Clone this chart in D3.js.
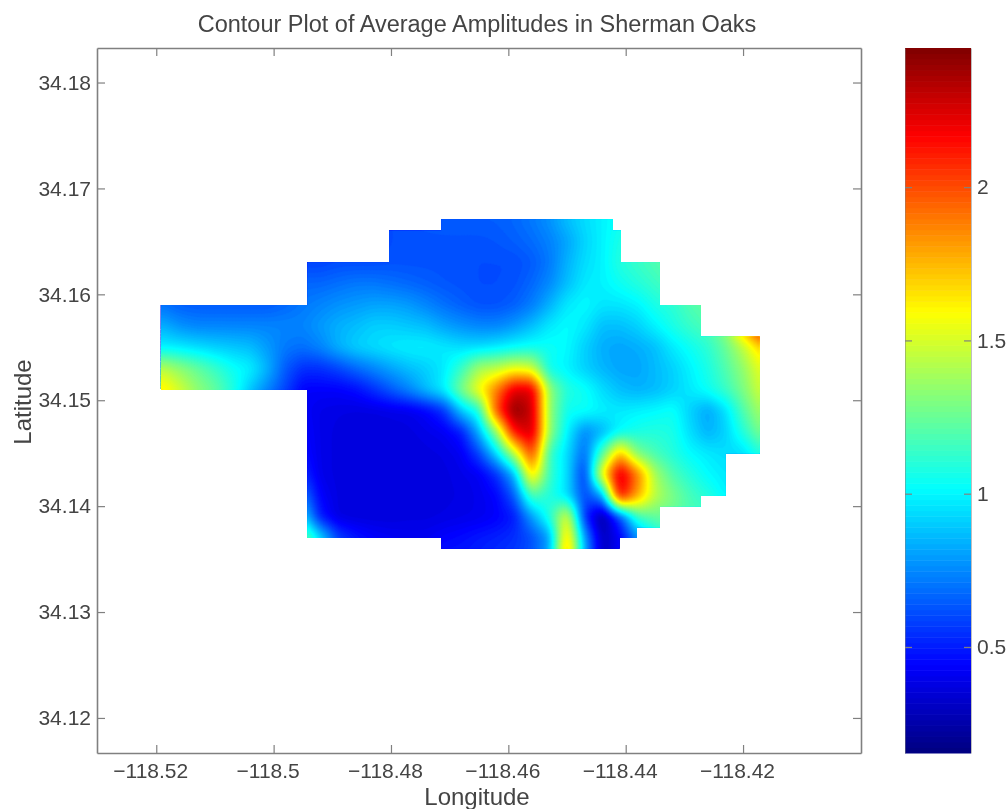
<!DOCTYPE html>
<html>
<head>
<meta charset="utf-8">
<title>Contour Plot of Average Amplitudes in Sherman Oaks</title>
<script src="https://cdn.jsdelivr.net/npm/d3@7"></script>
<style>
    html, body { margin: 0; padding: 0; background: #fff; }
    svg { display: block; filter: blur(0.7px); }
    text { font-family: "Liberation Sans", Arial, sans-serif; fill: #444; }
</style>
</head>
<body>
<div id="chart"></div>
<script>
// Grid the amplitudes were read on (cells outside the outline are only filler, they get clipped)
const lons = d3.range(35).map(i => +(-118.519 + i * 0.003).toFixed(3));
const lats = [34.167, 34.165, 34.163, 34.161, 34.159, 34.157, 34.155, 34.153, 34.151, 34.149, 34.147, 34.145, 34.143, 34.141, 34.139, 34.137, 34.135];

const r167 = [.65,.65,.65,.65,.65,.65,.65,.65, .6,.6,.6,.6,.6,.62,.64,.65,.66,.66,.66,.66,.68,.72,.78,.88,.95,1.0,1.05,1.1,1.15,1.2,1.2,1.2,1.2,1.2,1.2];
const r165 = [.65,.65,.65,.65,.65,.65,.65,.65, .58,.58,.6,.6,.6,.62,.63,.63,.63,.63,.63,.64,.66,.69,.74,.82,.93,1.0,1.08,1.12,1.2,1.25,1.25,1.25,1.25,1.25,1.25];
const r163 = [.65,.65,.65,.65,.65,.65,.65,.65, .6,.6,.62,.62,.62,.63,.63,.63,.63,.63,.62,.62,.62,.65,.72,.85,.95,1.0,1.1,1.15,1.2,1.25,1.25,1.25,1.25,1.25,1.25];
const r161 = [.66,.66,.66,.66,.66,.66,.66,.66, .68,.68,.7,.72,.72,.7,.68,.66,.64,.63,.62,.62,.63,.68,.76,.88,.98,1.0,1.05,1.1,1.15,1.2,1.25,1.3,1.3,1.3,1.3];
const r159 = [.7,.66,.65,.65,.65,.65,.65,.68, .72,.75,.78,.8,.82,.82,.8,.75,.7,.66,.63,.63,.66,.73,.85,.98,1.02,.97,.97,1.0,1.08,1.12,1.2,1.25,1.4,1.9,2.35];
const r157 = [.85,.78,.75,.75,.75,.75,.75,.75, .75,.8,.85,.88,.92,.92,.9,.88,.82,.78,.75,.75,.8,.88,.98,1.03,.98,.88,.88,.92,1.0,1.08,1.15,1.2,1.35,1.8,2.2];
const r155 = [1.0,.98,.95,.92,.9,.88,.8,.72, .7,.75,.85,.92,.95,.98,1.0,1.0,.98,.95,.95,.98,1.02,1.05,1.05,1.02,.92,.84,.82,.84,.88,.98,1.05,1.12,1.25,1.45,1.7];
const r153 = [1.45,1.35,1.25,1.15,1.05,1.0,.85,.65, .55,.55,.6,.68,.75,.82,.88,.92,.98,1.15,1.4,1.45,1.55,1.5,1.05,1.0,.92,.86,.82,.82,.87,.92,1.0,1.08,1.2,1.35,1.55];
const r151 = [1.65,1.5,1.35,1.25,1.1,.9,.75,.6, .44,.44,.44,.47,.55,.65,.75,.88,1.0,1.3,1.6,1.9,2.25,2.25,1.35,1.1,1.05,.95,.88,.85,.87,.92,.98,1.05,1.15,1.3,1.5];
const r149 = [1.65,1.5,1.35,1.2,1.0,.8,.6,.5, .44,.4,.39,.38,.38,.39,.4,.44,.55,.9,1.08,2.0,2.45,2.3,1.35,1.05,1.05,1.0,.98,1.0,1.02,1.05,.92,.82,.95,1.2,1.4];
const r147 = [.5,.5,.5,.5,.5,.5,.5,.5, .46,.4,.38,.38,.38,.38,.38,.4,.42,.5,.85,1.35,2.15,2.3,1.35,1.0,.75,.85,1.02,1.08,1.1,1.08,.95,.85,.92,1.1,1.3];
const r145 = [.5,.5,.5,.5,.5,.5,.5,.5, .48,.4,.38,.37,.37,.37,.37,.38,.39,.42,.6,.95,1.45,2.05,1.15,.95,.68,1.2,1.75,1.3,1.18,1.1,1.02,.98,.95,.95,1.1];
const r143 = [.55,.55,.55,.55,.55,.55,.55,.55, .55,.4,.38,.37,.37,.37,.37,.37,.38,.4,.42,.55,.85,1.7,1.15,.95,.55,1.6,2.3,1.9,1.4,1.2,1.1,1.02,.98,.98,.98];
const r141 = [.7,.7,.7,.7,.7,.7,.7,.7, .72,.44,.38,.37,.37,.37,.37,.37,.38,.39,.41,.45,.65,1.2,1.1,.95,.6,.8,2.2,1.8,1.45,1.3,1.18,1.1,1.0,1.0,1.0];
const r139 = [.85,.85,.85,.85,.85,.85,.85,.85, .95,.5,.38,.37,.37,.37,.38,.38,.39,.4,.41,.44,.5,.8,1.1,1.55,.55,.22,.6,1.15,1.25,1.25,1.2,1.2,1.2,1.2,1.2];
const r137 = [1.2,1.2,1.2,1.2,1.2,1.2,1.2,1.2, 1.3,.95,.6,.5,.45,.43,.42,.42,.45,.47,.5,.52,.55,.62,.8,1.75,.8,.3,.42,.75,1.0,1.2,1.2,1.2,1.2,1.2,1.2];
const r135 = [1.2,1.2,1.2,1.2,1.2,1.2,1.2,1.2, 1.3,.95,.6,.5,.47,.45,.45,.45,.5,.5,.52,.55,.58,.65,.85,1.85,.85,.3,.45,.8,1.0,1.2,1.2,1.2,1.2,1.2,1.2];
const amplitudeRows = [r167, r165, r163, r161, r159, r157, r155, r153, r151, r149, r147, r145, r143, r141, r139, r137, r135];

// Outline of the surveyed area
const outlineLon = [-118.5192,-118.4942,-118.4942,-118.4803,-118.4803,-118.4714,-118.4714,-118.4422,-118.4422,-118.4408,-118.4408,-118.4342,-118.4342,-118.4272,-118.4272,-118.4172,-118.4172,-118.423,-118.423,-118.4272,-118.4272,-118.4342,-118.4342,-118.4381,-118.4381,-118.4411,-118.4411,-118.4714,-118.4714,-118.4942,-118.4942,-118.5192];
const outlineLat = [34.159,34.159,34.163,34.163,34.166,34.166,34.1671,34.1671,34.166,34.166,34.163,34.163,34.159,34.159,34.156,34.156,34.145,34.145,34.141,34.141,34.14,34.14,34.138,34.138,34.137,34.137,34.136,34.136,34.137,34.137,34.151,34.151];

// Axis ticks
const lonTicks = [-118.52, -118.5, -118.48, -118.46, -118.44, -118.42];
const latTicks = [34.12, 34.13, 34.14, 34.15, 34.16, 34.17, 34.18];
const colorTicks = [0.5, 1, 1.5, 2];
const colorMin = 0.154;
const colorMax = 2.454;

const width = 1008;
const height = 809;
const plot = { left: 97, right: 861, top: 48, bottom: 753 };
const bar = { left: 905, right: 971 };

const svg = d3.select('#chart')
    .append('svg')
    .attr('width', width)
    .attr('height', height);

const x = d3.scaleLinear().domain([-118.5301, -118.3999]).range([plot.left, plot.right]);
const y = d3.scaleLinear().domain([34.11669, 34.18326]).range([plot.bottom, plot.top]);
const colorY = d3.scaleLinear().domain([colorMin, colorMax]).range([plot.bottom, plot.top]);

// MATLAB style jet colormap
function jet(v) {
    const t = (v - colorMin) / (colorMax - colorMin);
    const c = k => Math.round(255 * Math.max(0, Math.min(1, 1.5 - Math.abs(4 * t - k))));
    return `rgb(${c(3)},${c(2)},${c(1)})`;
}

// Refine the read grid so the contour bands come out smooth
const k = 6;
const nx = (lons.length - 1) * k + 1;
const ny = (lats.length - 1) * k + 1;
const fine = new Float64Array(nx * ny);
for (let j = 0; j < ny; j++) {
    const r = Math.min(Math.floor(j / k), lats.length - 2);
    const v = j / k - r;
    for (let i = 0; i < nx; i++) {
        const c = Math.min(Math.floor(i / k), lons.length - 2);
        const u = i / k - c;
        fine[j * nx + i] =
            amplitudeRows[r][c] * (1 - u) * (1 - v) + amplitudeRows[r][c + 1] * u * (1 - v) +
            amplitudeRows[r + 1][c] * (1 - u) * v + amplitudeRows[r + 1][c + 1] * u * v;
    }
}
d3.blur2({ data: fine, width: nx, height: ny }, 1);

// Clip to the surveyed outline
svg.append('clipPath')
    .attr('id', 'outline')
    .append('polygon')
    .attr('points', outlineLon.map((lon, i) => `${x(lon)},${y(outlineLat[i])}`).join(' '));

const gridLon = d3.scaleLinear().domain([0.5, nx - 0.5]).range([lons[0], lons[lons.length - 1]]);
const gridLat = d3.scaleLinear().domain([0.5, ny - 0.5]).range([lats[0], lats[lats.length - 1]]);
const path = d3.geoPath(d3.geoTransform({
    point: function(px, py) { this.stream.point(x(gridLon(px)), y(gridLat(py))); }
}));

const levels = d3.range(colorMin, colorMax, (colorMax - colorMin) / 128);
const contours = d3.contours().size([nx, ny]).thresholds(levels)(Array.from(fine));

svg.append('g')
    .attr('clip-path', 'url(#outline)')
    .selectAll('path')
    .data(contours)
    .enter()
    .append('path')
    .attr('d', path)
    .attr('fill', d => jet(d.value))
    .attr('stroke', d => jet(d.value))
    .attr('stroke-width', 0.5);

// Plot box with ticks on all four sides
const axisColor = '#808080';
function styleAxis(g) {
    g.selectAll('.domain').attr('stroke', axisColor).attr('stroke-width', 1.6);
    g.selectAll('.tick line').attr('stroke', axisColor).attr('stroke-width', 1.2);
    g.selectAll('.tick text').attr('font-size', 21).attr('fill', '#444');
    g.attr('font-family', null);
}

svg.append('g')
    .attr('transform', `translate(0,${plot.bottom})`)
    .call(d3.axisBottom(x).tickValues(lonTicks).tickSize(-8).tickSizeOuter(0).tickPadding(10)
        .tickFormat(d => String(d).replace('-', '\u2212')))
    .call(styleAxis)
    .call(g => g.selectAll('.tick text').attr('x', -6));
svg.append('g')
    .attr('transform', `translate(0,${plot.top})`)
    .call(d3.axisTop(x).tickValues(lonTicks).tickSize(-8).tickSizeOuter(0).tickFormat(''))
    .call(styleAxis);
svg.append('g')
    .attr('transform', `translate(${plot.left},0)`)
    .call(d3.axisLeft(y).tickValues(latTicks).tickSize(-8).tickSizeOuter(0).tickPadding(6).tickFormat(d3.format('.2f')))
    .call(styleAxis);
svg.append('g')
    .attr('transform', `translate(${plot.right},0)`)
    .call(d3.axisRight(y).tickValues(latTicks).tickSize(-8).tickSizeOuter(0).tickFormat(''))
    .call(styleAxis);

// Colorbar
const barStep = (colorMax - colorMin) / 128;
const barLevels = d3.range(colorMin, colorMax, barStep);
svg.append('g')
    .selectAll('rect')
    .data(barLevels)
    .enter()
    .append('rect')
    .attr('x', bar.left)
    .attr('width', bar.right - bar.left)
    .attr('y', d => colorY(d + barStep))
    .attr('height', d => colorY(d) - colorY(d + barStep) + 0.5)
    .attr('fill', d => jet(d + barStep / 2));

svg.append('g')
    .attr('transform', `translate(${bar.right},0)`)
    .call(d3.axisRight(colorY).tickValues(colorTicks).tickSize(-7).tickSizeOuter(0).tickPadding(6).tickFormat(d => String(d)))
    .call(styleAxis)
    .call(g => g.select('.domain').attr('stroke-width', 1))
    .call(g => g.select('.domain').attr('stroke-opacity', 0.5));
svg.append('g')
    .attr('transform', `translate(${bar.left},0)`)
    .call(d3.axisLeft(colorY).tickValues(colorTicks).tickSize(-7).tickSizeOuter(0).tickFormat(''))
    .call(styleAxis)
    .call(g => g.select('.domain').attr('stroke-width', 1))
    .call(g => g.select('.domain').attr('stroke-opacity', 0.5));

// Title and axis labels
svg.append('text')
    .attr('x', 477)
    .attr('y', 32)
    .attr('text-anchor', 'middle')
    .attr('font-size', 23.5)
    .text('Contour Plot of Average Amplitudes in Sherman Oaks');
svg.append('text')
    .attr('x', 477)
    .attr('y', 805)
    .attr('text-anchor', 'middle')
    .attr('font-size', 24)
    .text('Longitude');
svg.append('text')
    .attr('transform', 'translate(31,402) rotate(-90)')
    .attr('text-anchor', 'middle')
    .attr('font-size', 24)
    .text('Latitude');
</script>
</body>
</html>
